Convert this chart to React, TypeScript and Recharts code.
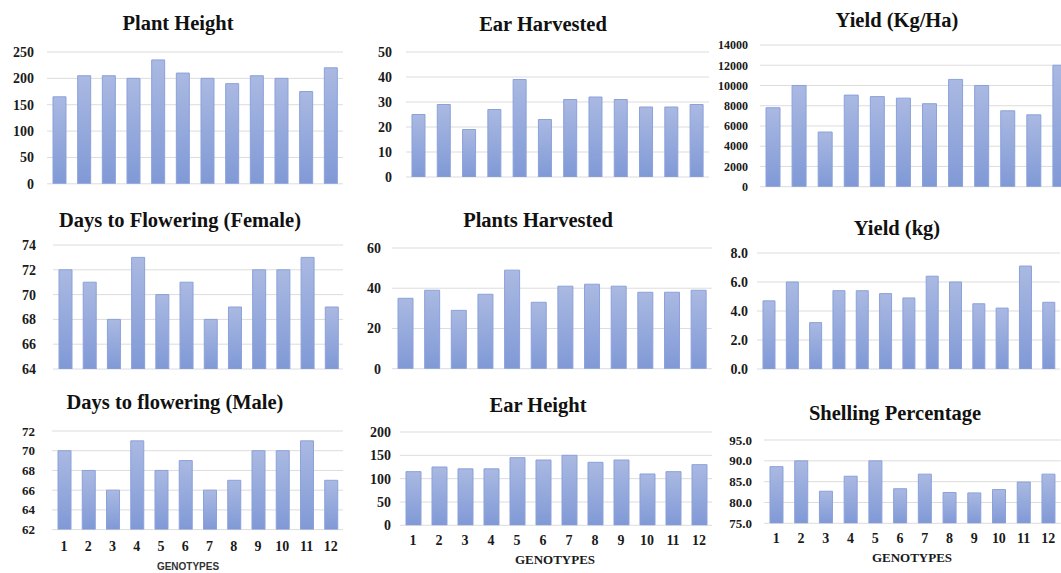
import React from "react";
import { BarChart, Bar, XAxis, YAxis, CartesianGrid } from "recharts";

const genotypes = ["1", "2", "3", "4", "5", "6", "7", "8", "9", "10", "11", "12"];
const genotypes13 = [...genotypes, "13"];

const plantHeight = [165, 205, 205, 200, 235, 210, 200, 190, 205, 200, 175, 220];
const earHarvested = [25, 29, 19, 27, 39, 23, 31, 32, 31, 28, 28, 29];
const yieldKgHa = [7800, 10000, 5400, 9050, 8900, 8750, 8200, 10600, 10000, 7500, 7100, 12000];
const daysFemale = [72, 71, 68, 73, 70, 71, 68, 69, 72, 72, 73, 69];
const plantsHarvested = [35, 39, 29, 37, 49, 33, 41, 42, 41, 38, 38, 39];
const yieldKg = [4.7, 6.0, 3.2, 5.4, 5.4, 5.2, 4.9, 6.4, 6.0, 4.5, 4.2, 7.1, 4.6];
const daysMale = [70, 68, 66, 71, 68, 69, 66, 67, 70, 70, 71, 67];
const earHeight = [115, 125, 121, 121, 145, 140, 150, 135, 140, 110, 115, 130];
const shelling = [88.6, 90.0, 82.7, 86.3, 90.0, 83.3, 86.8, 82.4, 82.3, 83.1, 84.9, 86.8];

const plantHeightTicks = [0, 50, 100, 150, 200, 250];
const earHarvestedTicks = [0, 10, 20, 30, 40, 50];
const yieldKgHaTicks = [0, 2000, 4000, 6000, 8000, 10000, 12000, 14000];
const daysFemaleTicks = [64, 66, 68, 70, 72, 74];
const plantsHarvestedTicks = [0, 20, 40, 60];
const yieldKgTicks = [0, 2, 4, 6, 8];
const daysMaleTicks = [62, 64, 66, 68, 70, 72];
const earHeightTicks = [0, 50, 100, 150, 200];
const shellingTicks = [75, 80, 85, 90, 95];

const SERIF = "Liberation Serif, Times New Roman, serif";
const oneDecimal = (v: number) => v.toFixed(1);

type PanelProps = {
  id: string;
  title: string;
  titleX: number;
  titleY: number;
  cats: string[];
  values: number[];
  ticks: number[];
  fmt?: (v: number) => string;
  x0: number;
  x1: number;
  yTop: number;
  yBot: number;
  barSize: number;
  tickGap: number;
  tickFont: number;
  showX?: boolean;
  xGap?: number;
};

function Panel(p: PanelProps) {
  const yAxisW = 60;
  const mt = 10;
  const xh = p.showX ? 30 : 0;
  const mb = p.showX ? 0 : 10;
  const plotW = p.x1 - p.x0;
  const plotH = p.yBot - p.yTop;
  const data = p.cats.map((g, i) => ({ g, v: p.values[i] }));
  const tickStyle = { fontFamily: SERIF, fontWeight: 700, fontSize: p.tickFont, fill: "#1a1a1a" };
  return (
    <>
      <div
        style={{
          position: "absolute",
          left: p.titleX,
          top: p.titleY,
          transform: "translate(-50%, -50%)",
          fontFamily: SERIF,
          fontWeight: 700,
          fontSize: 20.5,
          whiteSpace: "nowrap",
          color: "#111",
        }}
      >
        {p.title}
      </div>
      <div style={{ position: "absolute", left: p.x0 - yAxisW, top: p.yTop - mt }}>
        <BarChart
          width={yAxisW + plotW}
          height={mt + plotH + xh + mb}
          data={data}
          margin={{ top: mt, right: 0, bottom: mb, left: 0 }}
        >
          <defs>
            <linearGradient id={`grad-${p.id}`} x1="0" y1="0" x2="0" y2="1">
              <stop offset="0%" stopColor="#aab9e2" />
              <stop offset="100%" stopColor="#8099d6" />
            </linearGradient>
          </defs>
          <CartesianGrid vertical={false} stroke="#dcdcdc" />
          <XAxis
            dataKey="g"
            hide={!p.showX}
            height={xh}
            axisLine={false}
            tickLine={false}
            tickSize={0}
            tickMargin={p.xGap ?? 10}
            interval={0}
            tick={{ ...tickStyle, fontSize: 14 }}
          />
          <YAxis
            width={yAxisW}
            domain={[p.ticks[0], p.ticks[p.ticks.length - 1]]}
            ticks={p.ticks}
            interval={0}
            allowDataOverflow
            axisLine={false}
            tickLine={false}
            tickSize={0}
            tickMargin={p.tickGap}
            tickFormatter={p.fmt}
            tick={tickStyle}
          />
          <Bar
            dataKey="v"
            fill={`url(#grad-${p.id})`}
            stroke="#8ba1da"
            strokeWidth={1}
            barSize={p.barSize}
            isAnimationActive={false}
          />
        </BarChart>
      </div>
    </>
  );
}

export default function App() {
  return (
    <div
      style={{
        position: "fixed",
        left: 0,
        top: 0,
        width: 1061,
        height: 573,
        overflow: "hidden",
        background: "#fff",
      }}
    >
      <Panel id="ph" title="Plant Height" titleX={178} titleY={23} cats={genotypes} values={plantHeight}
        ticks={plantHeightTicks} x0={47} x1={343} yTop={51.7} yBot={183.5} barSize={13} tickGap={13} tickFont={14} />
      <Panel id="eh" title="Ear Harvested" titleX={543} titleY={24} cats={genotypes} values={earHarvested}
        ticks={earHarvestedTicks} x0={405.6} x1={709} yTop={51.7} yBot={176.7} barSize={13} tickGap={14} tickFont={14} />
      <Panel id="ykh" title="Yield (Kg/Ha)" titleX={897} titleY={20} cats={genotypes} values={yieldKgHa}
        ticks={yieldKgHaTicks} x0={760} x1={1073} yTop={45} yBot={186.7} barSize={14} tickGap={12} tickFont={12} />

      <Panel id="df" title="Days to Flowering (Female)" titleX={180} titleY={220} cats={genotypes} values={daysFemale}
        ticks={daysFemaleTicks} x0={52.5} x1={343} yTop={245} yBot={369} barSize={13} tickGap={17} tickFont={14} />
      <Panel id="plh" title="Plants Harvested" titleX={538} titleY={220} cats={genotypes} values={plantsHarvested}
        ticks={plantsHarvestedTicks} x0={392} x1={711.8} yTop={248.3} yBot={369} barSize={15} tickGap={11} tickFont={14} />
      <Panel id="yk" title="Yield (kg)" titleX={897} titleY={228} cats={genotypes13} values={yieldKg}
        ticks={yieldKgTicks} fmt={oneDecimal} x0={757.4} x1={1060.5} yTop={253.3} yBot={369.3} barSize={12} tickGap={9} tickFont={14} />

      <Panel id="dm" title="Days to flowering (Male)" titleX={175} titleY={402} cats={genotypes} values={daysMale}
        ticks={daysMaleTicks} x0={52} x1={343} yTop={430.7} yBot={529.3} barSize={13} tickGap={17} tickFont={13} showX xGap={11} />
      <Panel id="eht" title="Ear Height" titleX={538} titleY={405} cats={genotypes} values={earHeight}
        ticks={earHeightTicks} x0={399.5} x1={711.5} yTop={431.7} yBot={525} barSize={15} tickGap={9} tickFont={14} showX xGap={10} />
      <Panel id="sp" title="Shelling Percentage" titleX={895} titleY={413} cats={genotypes} values={shelling}
        ticks={shellingTicks} fmt={oneDecimal} x0={764.3} x1={1061} yTop={440} yBot={523.3} barSize={13} tickGap={12} tickFont={13} showX xGap={10} />

      <div style={{ position: "absolute", left: 188, top: 566, transform: "translate(-50%, -50%)",
        fontFamily: "Liberation Sans, Arial, sans-serif", fontWeight: 700, fontSize: 10, color: "#333" }}>
        GENOTYPES
      </div>
      <div style={{ position: "absolute", left: 555, top: 560, transform: "translate(-50%, -50%)",
        fontFamily: SERIF, fontWeight: 700, fontSize: 13, color: "#1a1a1a" }}>
        GENOTYPES
      </div>
      <div style={{ position: "absolute", left: 912, top: 558, transform: "translate(-50%, -50%)",
        fontFamily: SERIF, fontWeight: 700, fontSize: 13, color: "#1a1a1a" }}>
        GENOTYPES
      </div>
    </div>
  );
}
